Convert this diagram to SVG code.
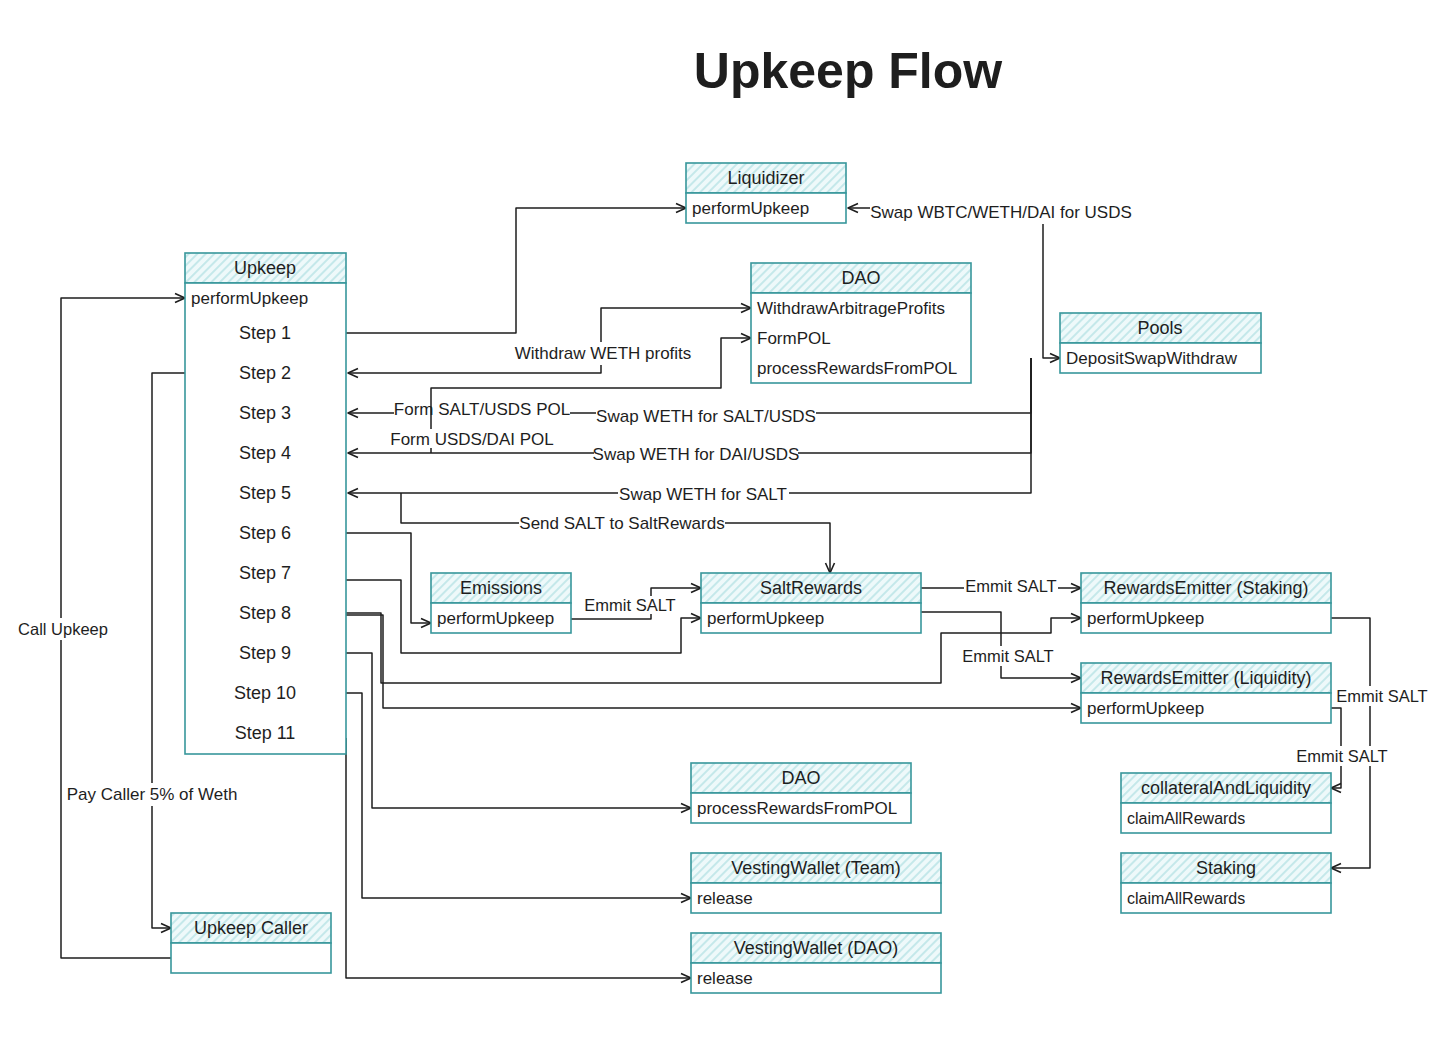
<svg xmlns="http://www.w3.org/2000/svg" width="1447" height="1043" viewBox="0 0 1447 1043">
<defs>
<pattern id="hatch" patternUnits="userSpaceOnUse" width="6" height="6" patternTransform="rotate(45)">
<rect width="6" height="6" fill="#eef9fa"/>
<line x1="1" y1="0" x2="1" y2="6" stroke="#a9dde0" stroke-width="1.2"/>
</pattern>
<marker id="arr" viewBox="0 0 12 12" refX="11" refY="6" markerWidth="12" markerHeight="12" markerUnits="userSpaceOnUse" orient="auto-start-reverse">
<path d="M1,1.5 L11,6 L1,10.5" fill="none" stroke="#1e1e1e" stroke-width="1.6" stroke-linejoin="round"/>
</marker>
<style>
.hd{fill:url(#hatch);stroke:#37979b;stroke-width:1.6}
.bd{fill:#ffffff;stroke:#37979b;stroke-width:1.6}
text{font-family:"Liberation Sans",Arial,sans-serif;fill:#1e1e1e;font-size:17px;dominant-baseline:central}
.t{text-anchor:middle;font-size:18px}
.m{text-anchor:start}
.s{text-anchor:middle;font-size:18px}
.lb{text-anchor:middle;font-size:17px}
.e{text-anchor:middle;font-size:16.5px}
.c{fill:none;stroke:#1e1e1e;stroke-width:1.5;stroke-linejoin:round}
.ae{marker-end:url(#arr)}
.as{marker-start:url(#arr)}
.title{font-size:50px;font-weight:bold;text-anchor:middle}
</style>
</defs>
<rect width="1447" height="1043" fill="#ffffff"/>
<text class="title" x="848" y="71">Upkeep Flow</text>

<g id="connectors">
<path class="c ae" d="M346,333 H516 V208 H686"/>
<path class="c as ae" d="M848,208 H870 M1043,224 V358 H1060"/>
<path class="c as ae" d="M348,373 H601 V365 M601,342 V308 H751"/>
<path class="c as" d="M348,413 H394 M570,413 H596 M816,413 H1031 V358"/>
<path class="c as" d="M348,453 H594 M798,453 H1031 V358"/>
<path class="c as" d="M348,493 H618 M789,493 H1031 V358"/>
<path class="c ae" d="M431,453 V448 M431,429 V388 H721 V338 H751"/>
<path class="c ae" d="M401,493 V523 H519 M725,523 H830 V573"/>
<path class="c ae" d="M346,533 H411 V623 H431"/>
<path class="c ae" d="M571,619 H651 V614 M651,596 V588 H701"/>
<path class="c ae" d="M346,580 H401 V653 H681 V618 H701"/>
<path class="c ae" d="M921,588 H964 M1058,588 H1081"/>
<path class="c ae" d="M921,612 H1001 V646 M1001,666 V678 H1081"/>
<path class="c ae" d="M346,613 H381 V683 H941 V633 H1051 V618 H1081"/>
<path class="c ae" d="M346,615 H383 V708 H1081"/>
<path class="c ae" d="M1331,618 H1370 V686 M1370,706 V746 M1370,766 V868 H1331"/>
<path class="c ae" d="M1331,708 H1341 V746 M1341,766 V788 H1331"/>
<path class="c ae" d="M346,653 H372 V808 H691"/>
<path class="c ae" d="M346,693 H362 V898 H691"/>
<path class="c ae" d="M346,738 V978 H691"/>
<path class="c ae" d="M171,958 H61 V640 M61,618 V298 H185"/>
<path class="c ae" d="M185,373 H152 V783 M152,806 V928 H171"/>
<text class="lb" x="1001" y="212">Swap WBTC/WETH/DAI for USDS</text>
<text class="lb" x="603" y="353">Withdraw WETH profits</text>
<text class="lb" x="482" y="409">Form SALT/USDS POL</text>
<text class="lb" x="472" y="439">Form USDS/DAI POL</text>
<text class="lb" x="706" y="416">Swap WETH for SALT/USDS</text>
<text class="lb" x="696" y="454">Swap WETH for DAI/USDS</text>
<text class="lb" x="703" y="494">Swap WETH for SALT</text>
<text class="lb" x="622" y="523">Send SALT to SaltRewards</text>
<text class="e" x="630" y="605">Emmit SALT</text>
<text class="e" x="1011" y="586">Emmit SALT</text>
<text class="e" x="1008" y="656">Emmit SALT</text>
<text class="e" x="1382" y="696">Emmit SALT</text>
<text class="e" x="1342" y="756">Emmit SALT</text>
<text class="e" x="63" y="629">Call Upkeep</text>
<text class="lb" x="152" y="794">Pay Caller 5% of Weth</text>
</g>

<g id="liquidizer">
<rect class="hd" x="686" y="163" width="160" height="30"/>
<rect class="bd" x="686" y="193" width="160" height="30"/>
<text class="t" x="766" y="178">Liquidizer</text>
<text class="m" x="692" y="208">performUpkeep</text>
</g>

<g id="upkeep">
<rect class="hd" x="185" y="253" width="161" height="30"/>
<rect class="bd" x="185" y="283" width="161" height="471"/>
<text class="t" x="265" y="268">Upkeep</text>
<text class="m" x="191" y="298">performUpkeep</text>
<text class="s" x="265" y="333">Step 1</text>
<text class="s" x="265" y="373">Step 2</text>
<text class="s" x="265" y="413">Step 3</text>
<text class="s" x="265" y="453">Step 4</text>
<text class="s" x="265" y="493">Step 5</text>
<text class="s" x="265" y="533">Step 6</text>
<text class="s" x="265" y="573">Step 7</text>
<text class="s" x="265" y="613">Step 8</text>
<text class="s" x="265" y="653">Step 9</text>
<text class="s" x="265" y="693">Step 10</text>
<text class="s" x="265" y="733">Step 11</text>
</g>

<g id="dao-top">
<rect class="hd" x="751" y="263" width="220" height="30"/>
<rect class="bd" x="751" y="293" width="220" height="90"/>
<text class="t" x="861" y="278">DAO</text>
<text class="m" x="757" y="308">WithdrawArbitrageProfits</text>
<text class="m" x="757" y="338">FormPOL</text>
<text class="m" x="757" y="368">processRewardsFromPOL</text>
</g>

<g id="pools">
<rect class="hd" x="1060" y="313" width="201" height="30"/>
<rect class="bd" x="1060" y="343" width="201" height="30"/>
<text class="t" x="1160" y="328">Pools</text>
<text class="m" x="1066" y="358">DepositSwapWithdraw</text>
</g>

<g id="emissions">
<rect class="hd" x="431" y="573" width="140" height="30"/>
<rect class="bd" x="431" y="603" width="140" height="30"/>
<text class="t" x="501" y="588">Emissions</text>
<text class="m" x="437" y="618">performUpkeep</text>
</g>

<g id="saltrewards">
<rect class="hd" x="701" y="573" width="220" height="30"/>
<rect class="bd" x="701" y="603" width="220" height="30"/>
<text class="t" x="811" y="588">SaltRewards</text>
<text class="m" x="707" y="618">performUpkeep</text>
</g>

<g id="rewardsemitter-staking">
<rect class="hd" x="1081" y="573" width="250" height="30"/>
<rect class="bd" x="1081" y="603" width="250" height="30"/>
<text class="t" x="1206" y="588">RewardsEmitter (Staking)</text>
<text class="m" x="1087" y="618">performUpkeep</text>
</g>

<g id="rewardsemitter-liquidity">
<rect class="hd" x="1081" y="663" width="250" height="30"/>
<rect class="bd" x="1081" y="693" width="250" height="30"/>
<text class="t" x="1206" y="678">RewardsEmitter (Liquidity)</text>
<text class="m" x="1087" y="708">performUpkeep</text>
</g>

<g id="collateral">
<rect class="hd" x="1121" y="773" width="210" height="30"/>
<rect class="bd" x="1121" y="803" width="210" height="30"/>
<text class="t" x="1226" y="788">collateralAndLiquidity</text>
<text class="m" x="1127" y="818" style="font-size:16px">claimAllRewards</text>
</g>

<g id="staking">
<rect class="hd" x="1121" y="853" width="210" height="30"/>
<rect class="bd" x="1121" y="883" width="210" height="30"/>
<text class="t" x="1226" y="868">Staking</text>
<text class="m" x="1127" y="898" style="font-size:16px">claimAllRewards</text>
</g>

<g id="dao-bottom">
<rect class="hd" x="691" y="763" width="220" height="30"/>
<rect class="bd" x="691" y="793" width="220" height="30"/>
<text class="t" x="801" y="778">DAO</text>
<text class="m" x="697" y="808">processRewardsFromPOL</text>
</g>

<g id="vesting-team">
<rect class="hd" x="691" y="853" width="250" height="30"/>
<rect class="bd" x="691" y="883" width="250" height="30"/>
<text class="t" x="816" y="868">VestingWallet (Team)</text>
<text class="m" x="697" y="898">release</text>
</g>

<g id="vesting-dao">
<rect class="hd" x="691" y="933" width="250" height="30"/>
<rect class="bd" x="691" y="963" width="250" height="30"/>
<text class="t" x="816" y="948">VestingWallet (DAO)</text>
<text class="m" x="697" y="978">release</text>
</g>

<g id="upkeep-caller">
<rect class="hd" x="171" y="913" width="160" height="30"/>
<rect class="bd" x="171" y="943" width="160" height="30"/>
<text class="t" x="251" y="928">Upkeep Caller</text>
</g>
</svg>
